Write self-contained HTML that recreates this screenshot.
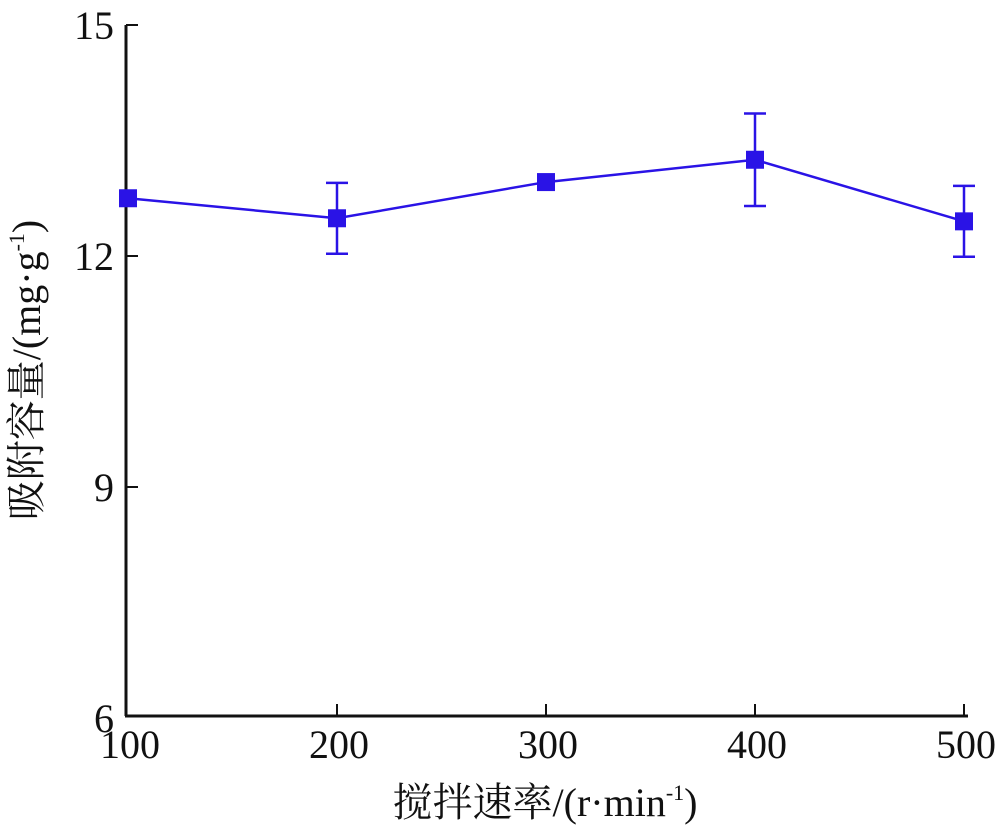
<!DOCTYPE html>
<html><head><meta charset="utf-8"><style>
html,body{margin:0;padding:0;background:#fff}
svg{display:block}
text{font-family:"Liberation Serif","Noto Serif CJK SC",serif;fill:#111}
</style></head><body>
<svg width="1000" height="833">
<g id="axes"></g>
<g id="marks"></g>
<text x="545" y="816" font-size="40" text-anchor="middle">搅拌速率/(r·min<tspan font-size="22" dy="-16">-1</tspan><tspan dy="16">)</tspan></text>
<text transform="translate(40,370) rotate(-90)" font-size="40" text-anchor="middle">吸附容量/(mg·g<tspan font-size="22" dy="-16">-1</tspan><tspan dy="16">)</tspan></text>
</svg>
<script>
const categories=[100,200,300,400,500];
const values=[12.75,12.49,12.96,13.25,12.45];
const errors=[0,0.46,0,0.6,0.46];
const xTicks=[100,200,300,400,500];
const yTicks=[6,9,12,15];
const NS="http://www.w3.org/2000/svg";
const X0=126,X1=968,Y0=716,Y1=25;
const xs=v=>128+(v-100)*(964-128)/400;
const ys=v=>718-(v-6)*(718-25)/9;
function mk(t,a,p){const e=document.createElementNS(NS,t);for(const k in a)e.setAttribute(k,a[k]);p.appendChild(e);return e;}
const ax=document.getElementById('axes');
const yl=mk('line',{x1:X0,y1:Y1,x2:X0,y2:Y0,stroke:'#111','stroke-width':3},ax);


const xl=mk('line',{x1:X0-1,y1:Y0,x2:X1,y2:Y0,stroke:'#111','stroke-width':3},ax);


yTicks.forEach(v=>{
 const y=ys(v);
 if(v>6){const tk=mk('line',{x1:X0,y1:y,x2:X0+12,y2:y,stroke:'#111','stroke-width':2},ax);
 
 }
 const t=mk('text',{x:X0-12,y:y+14,'font-size':40,'text-anchor':'end'},ax);t.textContent=v;
 
 
});
xTicks.forEach(v=>{
 const x=xs(v);
 if(v>100){const tk=mk('line',{x1:x,y1:Y0,x2:x,y2:Y0-12,stroke:'#111','stroke-width':2},ax);
 
 }
 const t=mk('text',{x:x+2,y:758,'font-size':40,'text-anchor':'middle'},ax);t.textContent=v;
 
 
});
const g=document.getElementById('marks');
const col='#2a13e6';
const line=mk('polyline',{points:categories.map((c,i)=>xs(c)+','+ys(values[i])).join(' '),fill:'none',stroke:col,'stroke-width':2.5},g);


categories.forEach((c,i)=>{
 const x=xs(c),y=ys(values[i]);
 if(errors[i]>0){
  const t=ys(values[i]+errors[i]),b=ys(values[i]-errors[i]);
  const eb=mk('path',{d:`M${x},${t}V${b}M${x-11},${t}H${x+11}M${x-11},${b}H${x+11}`,stroke:col,'stroke-width':2.5,fill:'none'},g);
  
  
 }
 const r=mk('rect',{x:x-9,y:y-9,width:18,height:18,fill:col},g);
 
 
});
</script>
</body></html>
